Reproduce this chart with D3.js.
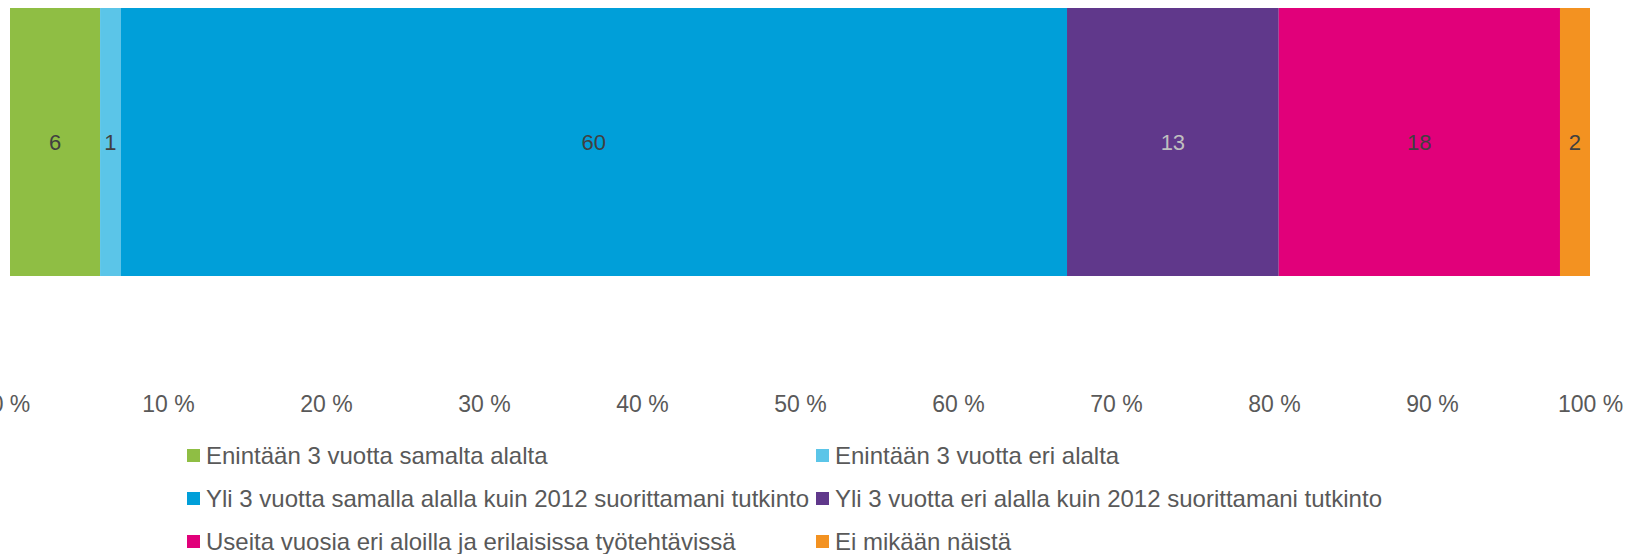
<!DOCTYPE html>
<html>
<head>
<meta charset="utf-8">
<script src="https://cdn.jsdelivr.net/npm/d3@7"></script>
<style>
  html, body { margin: 0; padding: 0; background: #fff; }
  svg { display: block; font-family: "Liberation Sans", Arial, sans-serif; }
</style>
</head>
<body>
<div id="chart"></div>
<script>
'use strict';

// data
const categories = [
    'Enintään 3 vuotta samalta alalta',
    'Enintään 3 vuotta eri alalta',
    'Yli 3 vuotta samalla alalla kuin 2012 suorittamani tutkinto',
    'Yli 3 vuotta eri alalla kuin 2012 suorittamani tutkinto',
    'Useita vuosia eri aloilla ja erilaisissa työtehtävissä',
    'Ei mikään näistä'
];
const values = [5.7, 1.3, 59.9, 13.4, 17.8, 1.9];
const tickValues = [0, 10, 20, 30, 40, 50, 60, 70, 80, 90, 100];

// styles
const colors = ['#8fbe44', '#5bc5e8', '#009fd9', '#60388b', '#e1007a', '#f39221'];
const labelColors = ['#404040', '#404040', '#404040', '#bfbfbf', '#404040', '#404040'];

const width = 1632, height = 554;
const margin = { left: 10, right: 42, top: 8 };
const barHeight = 268;

function init(selector) {

    let svg = d3.select(selector).append('svg')
        .attr('width', width)
        .attr('height', height);

    let x = d3.scaleLinear()
        .domain([0, 100])
        .range([margin.left, width - margin.right]);

    // stacked segments
    let stack = d3.stack().keys(categories.map((c, i) => i))([values]);

    let segs = svg.append('g').attr('class', 'bars')
      .selectAll('g')
      .data(stack)
      .join('g');

    segs.append('rect')
        .attr('x', d => x(d[0][0]))
        .attr('y', margin.top)
        .attr('width', d => x(d[0][1]) - x(d[0][0]))
        .attr('height', barHeight)
        .attr('fill', (d, i) => colors[i]);

    segs.append('text')
        .attr('x', d => (x(d[0][0]) + x(d[0][1])) / 2)
        .attr('y', margin.top + barHeight / 2)
        .attr('dy', '0.35em')
        .attr('text-anchor', 'middle')
        .attr('font-size', 22)
        .attr('fill', (d, i) => labelColors[i])
        .text((d, i) => Math.round(values[i]));

    // x-axis, labels only
    let axis = svg.append('g')
        .attr('class', 'x-axis')
        .attr('transform', 'translate(0, 404)')
        .call(d3.axisBottom(x)
            .tickValues(tickValues)
            .tickSize(0)
            .tickPadding(0)
            .tickFormat(d => d + ' %'));

    axis.select('.domain').remove();
    axis.selectAll('text')
        .attr('dy', '0.35em')
        .attr('font-size', 23)
        .attr('font-family', '"Liberation Sans", Arial, sans-serif')
        .attr('fill', '#595959');

    // legend, two columns
    let colX = [187, 816];
    let rowY = [456, 499, 542];

    let legend = svg.append('g').attr('class', 'legend')
      .selectAll('g')
      .data(categories)
      .join('g')
        .attr('transform', (d, i) => `translate(${colX[i % 2]}, ${rowY[Math.floor(i / 2)]})`);

    legend.append('rect')
        .attr('x', 0)
        .attr('y', -7)
        .attr('width', 13)
        .attr('height', 13)
        .attr('fill', (d, i) => colors[i]);

    legend.append('text')
        .attr('x', 19)
        .attr('y', 0)
        .attr('dy', '0.35em')
        .attr('font-size', 24)
        .attr('fill', '#595959')
        .text(d => d);
}

init('#chart');
</script>
</body>
</html>
